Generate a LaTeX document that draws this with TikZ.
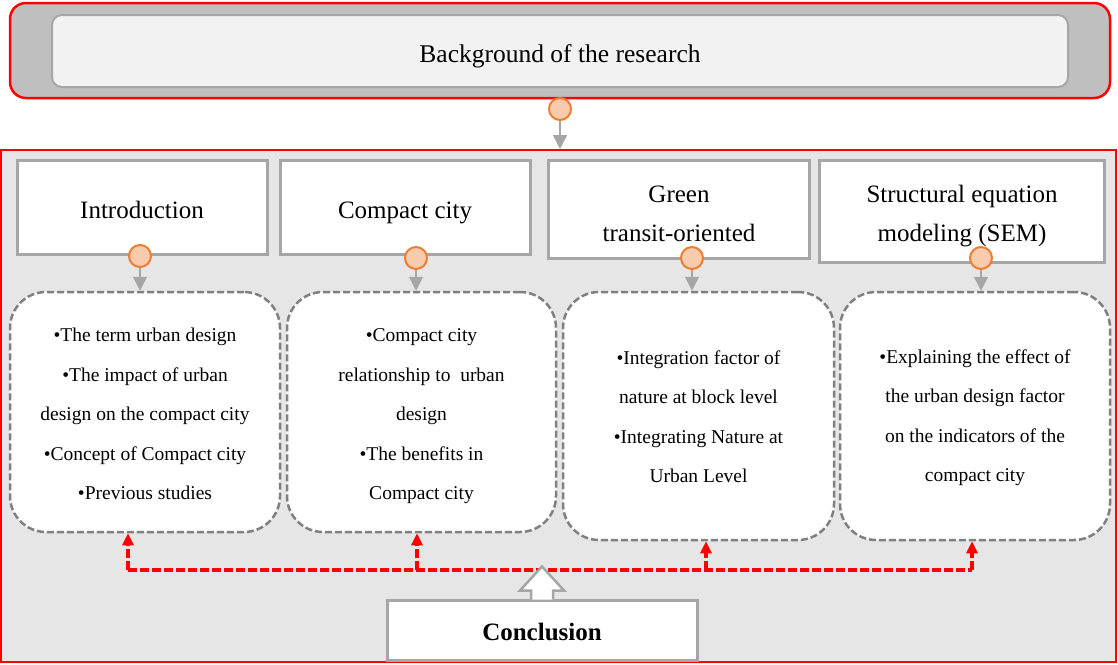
\documentclass[tikz,border=0pt]{standalone}
\usepackage{fontspec}
\setmainfont{Liberation Serif}
\usetikzlibrary{arrows.meta,calc}
\definecolor{framered}{HTML}{FF0000}
\definecolor{outergray}{HTML}{BFBFBF}
\definecolor{innergray}{HTML}{F2F2F2}
\definecolor{panelgray}{HTML}{E6E6E6}
\definecolor{edgegray}{HTML}{A6A6A6}
\definecolor{dashgray}{HTML}{808080}
\definecolor{dotfill}{HTML}{F8CBAD}
\definecolor{dotedge}{HTML}{ED7D31}
% centred block of lines, lowered by #1 without changing the node size
\newcommand{\textblock}[2]{\raisebox{#1}[0pt][0pt]{\setlength{\tabcolsep}{0pt}\begin{tabular}{c}#2\end{tabular}}}
\tikzset{
  headbox/.style={draw=edgegray, line width=3pt, fill=white,
    font=\fontsize{25}{39}\selectfont, inner sep=0pt},
  topicbox/.style={draw=dashgray, line width=2.5pt, dash pattern=on 7pt off 3pt,
    fill=white, rounded corners=36pt,
    font=\fontsize{19.5}{39.5}\selectfont, inner sep=0pt},
  dot/.style={circle, draw=dotedge, fill=dotfill, line width=2pt,
    minimum size=22pt, inner sep=0pt},
  grayarrow/.style={draw=edgegray, line width=1.5pt,
    -{Triangle[length=14pt,width=14pt]}},
  redbus/.style={draw=framered, line width=3.5pt, dash pattern=on 9pt off 3pt},
  redarrow/.style={redbus, -{Triangle[length=12pt,width=11pt]}},
}
\begin{document}
\begin{tikzpicture}[x=1pt,y=-1pt]
\useasboundingbox (0,0) rectangle (1118,664);

% top banner
\draw[framered, line width=2.5pt, fill=outergray, rounded corners=16pt]
  (10,3) rectangle (1110,98);
\node[draw=edgegray, line width=2pt, fill=innergray, rounded corners=10pt,
  minimum width=1016pt, minimum height=72pt, inner sep=0pt,
  font=\fontsize{25.5}{30}\selectfont] (bg) at (560,51)
  {\textblock{-12pt}{Background of the research}};
\node[dot] (d0) at (560,109) {};

% main panel
\draw[framered, line width=2.5pt, fill=panelgray] (1,150) rectangle (1116,662);
\draw[grayarrow] (d0.south) -- (560,149);

% chapter headers
\node[headbox, minimum width=250pt, minimum height=94pt] (h1) at (142,207)
  {\textblock{-10pt}{Introduction}};
\node[headbox, minimum width=250pt, minimum height=94pt] (h2) at (405,207)
  {\textblock{-10pt}{Compact city}};
\node[headbox, minimum width=261pt, minimum height=98pt] (h3) at (679,209)
  {\textblock{-11pt}{Green\\transit-oriented}};
\node[headbox, minimum width=285pt, minimum height=102pt] (h4) at (962,211)
  {\textblock{-9pt}{Structural equation\\modeling (SEM)}};

% chapter contents
\node[topicbox, minimum width=270pt, minimum height=240pt] (t1) at (145,412)
  {\textblock{-6pt}{\textbullet The term urban design\\\textbullet The impact of urban\\design on the compact city\\\textbullet Concept of Compact city\\\textbullet Previous studies}};
\node[topicbox, minimum width=269pt, minimum height=240pt] (t2) at (421.5,412)
  {\textblock{-6pt}{\textbullet Compact city\\relationship to\ \ urban\\design\\\textbullet The benefits in\\Compact city}};
\node[topicbox, minimum width=271pt, minimum height=248pt] (t3) at (698.5,416)
  {\textblock{-5pt}{\textbullet Integration factor of\\nature at block level\\\textbullet Integrating Nature at\\Urban Level}};
\node[topicbox, minimum width=270pt, minimum height=248pt] (t4) at (975,416)
  {\textblock{-4pt}{\textbullet Explaining the effect of\\the urban design factor\\on the indicators of the\\compact city}};

% header markers and links
\node[dot] (c1) at (140,256) {};
\node[dot] (c2) at (416,258) {};
\node[dot] (c3) at (692,258) {};
\node[dot] (c4) at (981,258) {};
\draw[grayarrow] (c1.south) -- (c1 |- t1.north);
\draw[grayarrow] (c2.south) -- (c2 |- t2.north);
\draw[grayarrow] (c3.south) -- (c3 |- t3.north);
\draw[grayarrow] (c4.south) -- (c4 |- t4.north);

% conclusion feedback bus
\coordinate (b1) at (128,570);
\coordinate (b2) at (417,570);
\coordinate (b3) at (706,570);
\coordinate (b4) at (972,570);
\draw[redbus] (b1) -- (b4);
\draw[redarrow] (b1) -- (b1 |- t1.south);
\draw[redarrow] (b2) -- (b2 |- t2.south);
\draw[redarrow] (b3) -- (b3 |- t3.south);
\draw[redarrow] (b4) -- (b4 |- t4.south);

% conclusion
\node[draw=edgegray, line width=3pt, fill=white, minimum width=310pt,
  minimum height=60pt, inner sep=0pt, font=\fontsize{25}{30}\selectfont\bfseries]
  (cc) at (542,630) {\textblock{-11pt}{Conclusion}};
\draw[draw=edgegray, line width=2.5pt, fill=white, line join=miter]
  ($(cc.north)+(-11,1)$) -- ++(0,-9) -- ++(-11,0) -- ($(cc.north)+(0,-32)$)
  -- ($(cc.north)+(22,-8)$) -- ++(-11,0) -- ($(cc.north)+(11,1)$);
\end{tikzpicture}
\end{document}
